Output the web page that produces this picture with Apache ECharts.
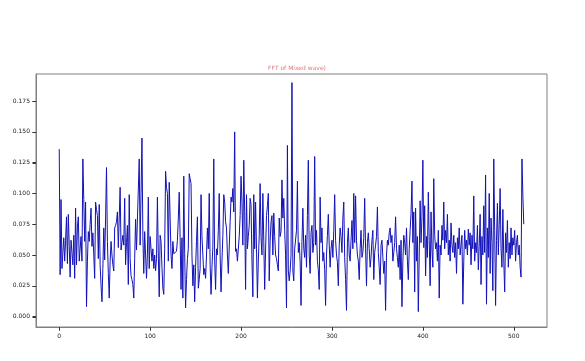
<!DOCTYPE html>
<html><head><meta charset="utf-8">
<script src="https://cdn.jsdelivr.net/npm/echarts@6/dist/echarts.min.js"></script>
<style>html,body{margin:0;padding:0;background:#fff}#c{width:585px;height:361px}</style>
</head><body><div id="c"></div>
<script>
const titleText = "FFT of Mixed wave)";
const xTicks = [0, 100, 200, 300, 400, 500];
const yTicks = [0, 0.025, 0.05, 0.075, 0.1, 0.125, 0.15, 0.175];
const amplitude = [
0.136,0.034,0.095,0.039,0.052,0.064,0.045,0.062,0.081,0.043,0.083,0.058,0.032,0.062,0.052,0.042,
0.066,0.031,0.088,0.042,0.073,0.081,0.045,0.055,0.065,0.045,0.128,0.095,0.061,0.093,0.008,0.045,
0.069,0.061,0.075,0.088,0.057,0.068,0.050,0.031,0.093,0.087,0.082,0.047,0.091,0.042,0.025,0.012,
0.039,0.072,0.046,0.080,0.121,0.061,0.035,0.015,0.045,0.061,0.050,0.042,0.037,0.072,0.074,0.077,
0.085,0.056,0.080,0.105,0.054,0.060,0.066,0.058,0.096,0.042,0.060,0.074,0.026,0.099,0.047,0.033,
0.030,0.026,0.015,0.047,0.079,0.054,0.054,0.053,0.128,0.058,0.100,0.145,0.066,0.035,0.069,0.050,
0.031,0.050,0.097,0.039,0.065,0.055,0.045,0.055,0.039,0.050,0.037,0.047,0.097,0.050,0.016,0.066,
0.061,0.040,0.023,0.018,0.055,0.118,0.105,0.100,0.045,0.109,0.080,0.050,0.039,0.061,0.051,0.052,
0.050,0.053,0.062,0.080,0.101,0.064,0.022,0.064,0.015,0.114,0.051,0.007,0.030,0.047,0.055,0.116,
0.112,0.108,0.050,0.025,0.042,0.012,0.040,0.061,0.081,0.023,0.030,0.039,0.099,0.065,0.050,0.034,
0.039,0.031,0.050,0.072,0.055,0.100,0.042,0.018,0.040,0.057,0.128,0.045,0.022,0.055,0.050,0.070,
0.100,0.050,0.020,0.045,0.066,0.099,0.093,0.077,0.072,0.050,0.035,0.035,0.077,0.097,0.093,0.104,
0.085,0.150,0.053,0.055,0.045,0.046,0.065,0.082,0.114,0.093,0.058,0.127,0.085,0.022,0.099,0.055,
0.065,0.074,0.096,0.091,0.045,0.016,0.099,0.055,0.093,0.055,0.015,0.045,0.066,0.108,0.064,0.050,
0.100,0.061,0.022,0.054,0.082,0.090,0.100,0.029,0.061,0.077,0.082,0.050,0.084,0.065,0.050,0.047,
0.042,0.037,0.080,0.065,0.069,0.111,0.080,0.096,0.070,0.050,0.007,0.139,0.037,0.029,0.037,0.050,
0.190,0.037,0.029,0.055,0.055,0.070,0.110,0.052,0.060,0.045,0.009,0.061,0.088,0.055,0.048,0.066,
0.040,0.082,0.127,0.050,0.035,0.068,0.074,0.052,0.060,0.130,0.058,0.070,0.045,0.038,0.022,0.097,
0.060,0.072,0.045,0.052,0.038,0.009,0.050,0.066,0.083,0.058,0.040,0.055,0.062,0.048,0.070,0.099,
0.062,0.050,0.044,0.025,0.058,0.072,0.065,0.052,0.080,0.093,0.048,0.030,0.005,0.060,0.072,0.050,
0.045,0.062,0.078,0.055,0.100,0.060,0.098,0.062,0.050,0.045,0.030,0.055,0.070,0.048,0.052,0.064,
0.096,0.055,0.025,0.060,0.068,0.055,0.040,0.048,0.062,0.070,0.030,0.052,0.058,0.065,0.089,0.052,
0.040,0.026,0.058,0.062,0.048,0.035,0.045,0.005,0.050,0.062,0.058,0.068,0.072,0.060,0.066,0.045,
0.052,0.060,0.081,0.055,0.048,0.040,0.058,0.030,0.062,0.008,0.045,0.066,0.060,0.050,0.072,0.045,
0.030,0.055,0.070,0.084,0.110,0.060,0.085,0.020,0.088,0.045,0.065,0.004,0.050,0.094,0.060,0.081,
0.127,0.056,0.090,0.033,0.065,0.048,0.101,0.062,0.025,0.085,0.054,0.040,0.112,0.066,0.055,0.060,
0.045,0.070,0.015,0.058,0.050,0.074,0.062,0.093,0.055,0.070,0.060,0.083,0.050,0.062,0.045,0.076,
0.058,0.052,0.066,0.048,0.060,0.035,0.064,0.055,0.072,0.050,0.058,0.066,0.010,0.045,0.070,0.055,
0.062,0.050,0.071,0.058,0.068,0.042,0.066,0.055,0.098,0.045,0.060,0.052,0.074,0.038,0.057,0.083,
0.026,0.065,0.050,0.090,0.052,0.115,0.010,0.072,0.048,0.100,0.035,0.080,0.060,0.021,0.128,0.070,
0.009,0.062,0.092,0.050,0.075,0.104,0.055,0.040,0.087,0.046,0.020,0.068,0.052,0.078,0.040,0.060,
0.047,0.072,0.050,0.064,0.058,0.070,0.045,0.060,0.066,0.050,0.058,0.040,0.032,0.128,0.098,0.075
];
const data = amplitude.map((v, i) => [i, v]);
const chart = echarts.init(document.getElementById('c'), null, {renderer: 'canvas'});
const labelStyle = {color: '#222', fontSize: 6, fontFamily: 'DejaVu Sans'};
const axisLineStyle = {show: true, onZero: false, lineStyle: {color: '#808080', width: 1}};
const X_MIN = -25.55, X_MAX = 536.55, Y_MIN = -0.0085, Y_MAX = 0.197;
chart.setOption({
  animation: false,
  title: {text: titleText, left: 292, top: 60, textAlign: 'center',
    textStyle: {color: '#e07a7a', fontSize: 6, fontWeight: 'normal', fontFamily: 'DejaVu Sans'}},
  grid: {left: 36, right: 38, top: 74, bottom: 34, show: true, borderColor: '#808080', borderWidth: 1, backgroundColor: '#fff'},
  xAxis: {type: 'value', min: X_MIN, max: X_MAX, position: 'bottom',
    axisLine: axisLineStyle,
    splitLine: {show: false},
    axisTick: {show: true, inside: false, length: 3.5, lineStyle: {color: '#333', width: 1}, customValues: xTicks},
    axisLabel: {show: true, margin: 6, customValues: xTicks, formatter: v => String(v), ...labelStyle}},
  yAxis: {type: 'value', min: Y_MIN, max: Y_MAX, position: 'left',
    axisLine: axisLineStyle,
    splitLine: {show: false},
    axisTick: {show: true, inside: false, length: 3.5, lineStyle: {color: '#333', width: 1}, customValues: yTicks},
    axisLabel: {show: true, margin: 6, customValues: yTicks, formatter: v => v.toFixed(3), ...labelStyle}},
  series: [{type: 'line', data: data, showSymbol: false, symbol: 'none',
    lineStyle: {color: '#1212b8', width: 1}, clip: true}]
});
// tick marks placed through the library's own scales
const tickLines = [];
xTicks.forEach(v => {
  const p = chart.convertToPixel({gridIndex: 0}, [v, Y_MIN]);
  const x = Math.round(p[0]) + 0.5, y = p[1];
  tickLines.push({type: 'line', shape: {x1: x, y1: y, x2: x, y2: y + 3.5}, style: {stroke: '#333', lineWidth: 1}, silent: true});
});
yTicks.forEach(v => {
  const p = chart.convertToPixel({gridIndex: 0}, [X_MIN, v]);
  const x = p[0], y = Math.round(p[1]) + 0.5;
  tickLines.push({type: 'line', shape: {x1: x - 3.5, y1: y, x2: x, y2: y}, style: {stroke: '#333', lineWidth: 1}, silent: true});
});
chart.setOption({graphic: tickLines});
</script></body></html>
